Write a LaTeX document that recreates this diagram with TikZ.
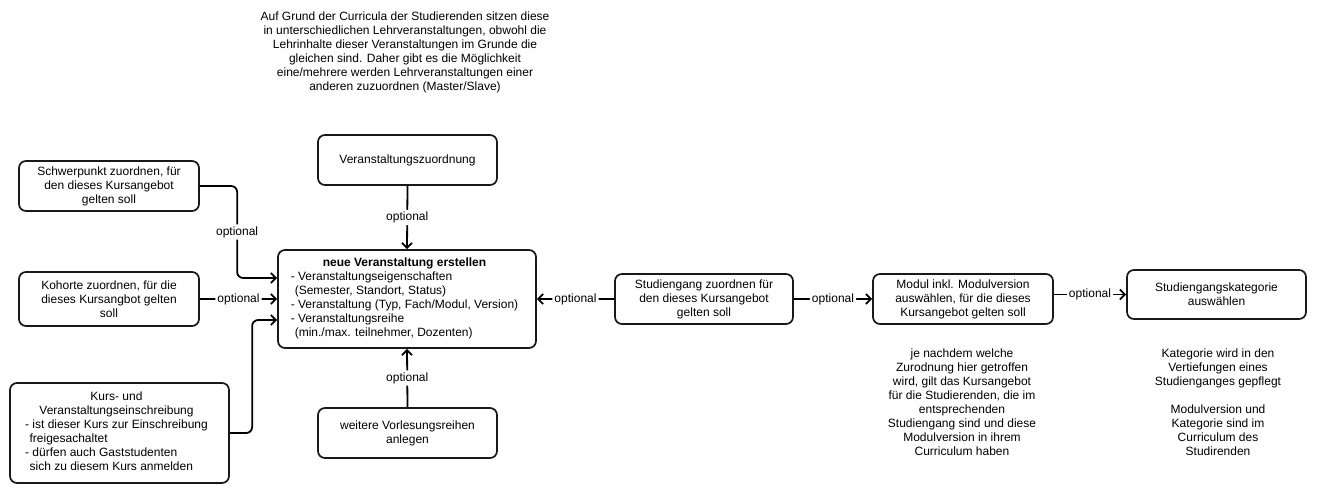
\documentclass[tikz,border=0pt]{standalone}
\usepackage{fontspec}
\setmainfont{Liberation Sans}
\usetikzlibrary{arrows.meta}
\begin{document}
\begin{tikzpicture}[x=1pt,y=-1pt,
  txt/.style={font=\fontsize{12}{14}\selectfont},
  box/.style={txt, draw=black!90, line width=1.7pt, rounded corners=7pt, align=center, inner sep=0pt},
  note/.style={txt, align=center, inner sep=0pt},
  conn/.style={line width=1.8pt, rounded corners=6pt, -{Straight Barb[length=5pt,width=10pt]}},
  lbl/.style={txt, fill=white, inner sep=2pt}]
\useasboundingbox (0,0) rectangle (1329,503);
\fill[white] (0,0) rectangle (1329,503);

% top note
\node[note] (topnote) at (405,52) {Auf Grund der Curricula der Studierenden sitzen diese\\
in unterschiedlichen Lehrveranstaltungen, obwohl die\\
Lehrinhalte dieser Veranstaltungen im Grunde die\\
gleichen sind. Daher gibt es die Möglichkeit\\
eine/mehrere werden Lehrveranstaltungen einer\\
anderen zuzuordnen (Master/Slave)};

% boxes
\node[box, minimum width=180pt, minimum height=50pt] (sp) at (109,186)
  {Schwerpunkt zuordnen, für\\den dieses Kursangebot\\gelten soll};
\node[box, minimum width=180pt, minimum height=54pt] (koh) at (109,299)
  {Kohorte zuordnen, für die\\dieses Kursangbot gelten\\soll};
\node[box, minimum width=219pt, minimum height=100pt] (kurs) at (119.5,433)
  {\begin{tabular}{@{}l@{}}\multicolumn{1}{@{}c@{}}{Kurs- und}\\
   \multicolumn{1}{@{}c@{}}{Veranstaltungseinschreibung}\\
   - ist dieser Kurs zur Einschreibung\\
   \hspace{4.5pt}freigesachaltet\\
   - dürfen auch Gaststudenten\\
   \hspace{4.5pt}sich zu diesem Kurs anmelden\end{tabular}\hspace{6pt}};
\node[box, minimum width=179pt, minimum height=50pt] (vz) at (407.5,160)
  {Veranstaltungszuordnung};
\node[box, minimum width=258pt, minimum height=98pt] (main) at (407,299)
  {\begin{tabular}{@{}l@{}}\multicolumn{1}{@{}c@{}}{\textbf{neue Veranstaltung erstellen}}\\
   - Veranstaltungseigenschaften\\
   \hspace{4pt}(Semester, Standort, Status)\\
   - Veranstaltung (Typ, Fach/Modul, Version)\\
   - Veranstaltungsreihe\\
   \hspace{4pt}(min./max. teilnehmer, Dozenten)\end{tabular}\hspace{5pt}};
\node[box, minimum width=179pt, minimum height=50pt] (we) at (407.5,433)
  {weitere Vorlesungsreihen\\anlegen};
\node[box, minimum width=178pt, minimum height=50pt] (sg) at (704,299)
  {Studiengang zuordnen für\\den dieses Kursangebot\\gelten soll};
\node[box, minimum width=180pt, minimum height=50pt] (mod) at (963,299)
  {Modul inkl. Modulversion\\auswählen, für die dieses\\Kursangebot gelten soll};
\node[box, minimum width=179pt, minimum height=49pt] (kat) at (1216.5,294.5)
  {Studiengangskategorie\\auswählen};

% notes
\node[note] (modnote) at (962,402) {je nachdem welche\\Zurodnung hier getroffen\\wird, gilt das Kursangebot\\für die Studierenden, die im\\entsprechenden\\Studiengang sind und diese\\Modulversion in ihrem\\Curriculum haben};
\node[note] (katnote) at (1218,402) {Kategorie wird in den\\Vertiefungen eines\\Studienganges gepflegt\\[14pt]Modulversion und\\Kategorie sind im\\Curriculum des\\Studirenden};

% connectors
\draw[conn] (sp.east) -| ([xshift=-40pt,yshift=21pt]main.west) node[lbl,pos=0.75]{optional} -- ([yshift=21pt]main.west);
\draw[conn] (koh.east) -- (koh.east -| main.west) node[lbl,midway]{optional};
\draw[conn] (kurs.east) -| ([xshift=-25pt,yshift=-21pt]main.west) -- ([yshift=-21pt]main.west);
\draw[conn] (vz.south) -- (main.north) node[lbl,midway]{optional};
\draw[conn] (we.north) -- (main.south) node[lbl,midway]{optional};
\draw[conn] (sg.west) -- (main.east) node[lbl,midway]{optional};
\draw[conn] (sg.east) -- (mod.west) node[lbl,midway]{optional};
\draw[conn] (mod.east |- kat.west) -- (kat.west) node[lbl,midway]{optional};
\end{tikzpicture}
\end{document}
